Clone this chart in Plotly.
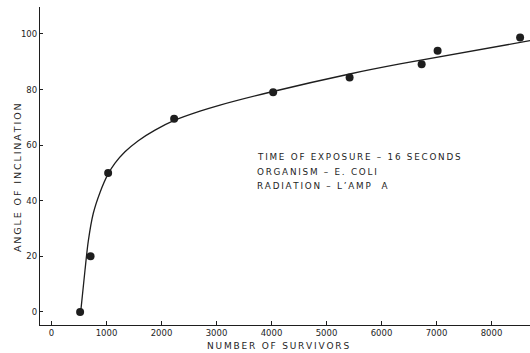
import plotly.graph_objects as go

# Measured points
survivors = [520, 710, 1030, 2230, 4030, 5420, 6730, 7020, 8520]
angle = [0, 20, 50, 69.5, 79, 84.3, 89.1, 94, 98.7]

# Hand-drawn fitted curve
curve_x = [531, 609, 669, 760, 882, 1021, 1155, 1336, 1578, 1882, 2222, 2700, 3064, 4027, 5422, 6336, 8700]
curve_y = [0, 15, 25.5, 35.5, 43, 49.3, 53.5, 57.6, 61.6, 65.4, 68.8, 72.2, 74.4, 79.3, 85.6, 89.2, 97.6]

x_ticks = [0, 1000, 2000, 3000, 4000, 5000, 6000, 7000, 8000]
y_ticks = [0, 20, 40, 60, 80, 100]

note_lines = ["TIME OF EXPOSURE \u2013 16 SECONDS", "ORGANISM \u2013 E. COLI", "RADIATION \u2013 L\u2019AMP  A"]
note_y = [55.8, 50.4, 45.3]

ink = "#1e1e1e"
font_family = "DejaVu Sans"


def spaced(s, gap="\u2009"):
    return gap.join(s)


fig = go.Figure()
fig.add_trace(go.Scatter(x=curve_x, y=curve_y, mode="lines",
                         line=dict(color=ink, width=1.3, shape="spline", smoothing=0.8),
                         hoverinfo="skip", showlegend=False))
fig.add_trace(go.Scatter(x=survivors, y=angle, mode="markers",
                         marker=dict(color=ink, size=8), showlegend=False))

for txt, yy in zip(note_lines, note_y):
    fig.add_annotation(x=3700, y=yy, xref="x", yref="y", text=spaced(txt), showarrow=False,
                       xanchor="left", yanchor="middle",
                       font=dict(family=font_family, size=8.8, color=ink))

fig.add_annotation(x=0.486, y=-0.066, xref="paper", yref="paper",
                   text=spaced("NUMBER OF SURVIVORS"),
                   showarrow=False, xanchor="center", yanchor="middle",
                   font=dict(family=font_family, size=9, color=ink))
fig.add_annotation(x=-0.047, y=0.465, xref="paper", yref="paper",
                   text=spaced("ANGLE OF INCLINATION"),
                   showarrow=False, xanchor="center", yanchor="middle", textangle=-90,
                   font=dict(family=font_family, size=9.5, color=ink))

fig.update_xaxes(range=[-209, 8700], tickvals=x_ticks, ticktext=[str(v) for v in x_ticks],
                 showgrid=False, zeroline=False, showline=True, linecolor=ink, linewidth=1.3,
                 ticks="inside", ticklen=4, tickcolor=ink, tickwidth=1.2,
                 tickfont=dict(family=font_family, size=8.5, color=ink))
fig.update_yaxes(range=[-4.7, 109.7], tickvals=y_ticks, ticktext=[str(v) for v in y_ticks],
                 showgrid=False, zeroline=False, showline=True, linecolor=ink, linewidth=1.3,
                 ticks="inside", ticklen=3, tickcolor=ink, tickwidth=1.2,
                 tickfont=dict(family=font_family, size=8.5, color=ink))

fig.update_layout(width=530, height=353, margin=dict(l=40, r=0, t=7, b=28),
                  plot_bgcolor="white", paper_bgcolor="white")

fig.write_html("out.html")
